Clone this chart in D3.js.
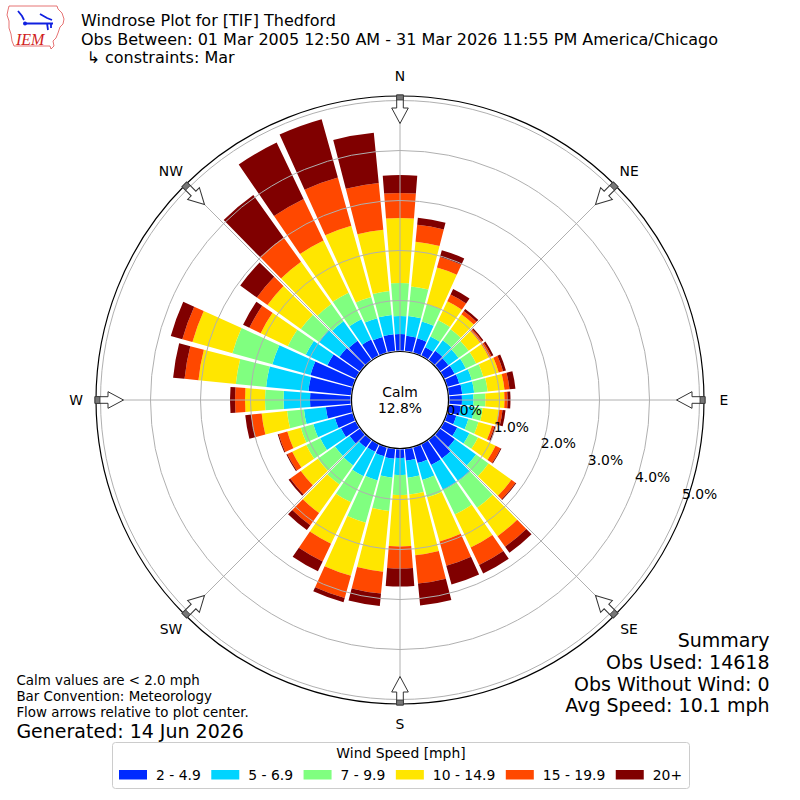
<!DOCTYPE html>
<html>
<head>
<meta charset="utf-8">
<script src="https://cdn.jsdelivr.net/npm/d3@7"></script>
<style>
  body { margin: 0; background: #fff; }
  svg { display: block; }
</style>
</head>
<body>
<div id="chart"></div>
<script>
// wind directions (degrees, meteorological) and percent of obs per speed bin
var dirs = [0, 10, 20, 30, 40, 50, 60, 70, 80, 90, 100, 110, 120, 130, 140, 150, 160, 170,
            180, 190, 200, 210, 220, 230, 240, 250, 260, 270, 280, 290, 300, 310, 320, 330, 340, 350];

var spd2_5   = [0.33,0.30,0.29,0.18,0.22,0.20,0.22,0.24,0.26,0.25,0.23,0.18,0.28,0.36,0.45,0.45,0.32,0.23,
                0.17,0.19,0.18,0.16,0.18,0.25,0.32,0.36,0.50,0.81,0.85,0.87,0.62,0.50,0.47,0.35,0.32,0.33];
var spd5_7   = [0.36,0.40,0.35,0.24,0.26,0.25,0.25,0.26,0.24,0.23,0.27,0.25,0.27,0.52,0.56,0.56,0.35,0.34,
                0.34,0.38,0.50,0.54,0.44,0.36,0.46,0.45,0.44,0.53,0.85,0.79,0.48,0.51,0.48,0.45,0.39,0.39];
var spd7_10  = [0.66,0.59,0.36,0.36,0.27,0.25,0.23,0.24,0.27,0.24,0.17,0.21,0.19,0.31,0.65,0.54,0.36,0.34,
                0.40,0.67,0.88,0.58,0.47,0.42,0.31,0.26,0.34,0.37,0.61,0.83,0.40,0.44,0.42,0.59,0.44,0.48];
var spd10_15 = [1.30,0.90,0.76,0.42,0.37,0.28,0.28,0.32,0.34,0.38,0.33,0.28,0.39,0.56,0.70,0.73,0.92,1.22,
                1.03,1.22,1.10,0.92,0.70,0.42,0.31,0.28,0.51,0.40,0.75,0.83,0.60,0.82,1.04,1.16,1.48,1.23];
var spd15_20 = [0.50,0.34,0.22,0.15,0.08,0.05,0.06,0.09,0.10,0.06,0.07,0.05,0.11,0.10,0.26,0.39,0.50,0.57,
                0.44,0.44,0.46,0.39,0.30,0.26,0.11,0.18,0.21,0.20,0.28,0.21,0.25,0.26,0.60,0.92,1.00,0.94];
var spd20    = [0.36,0.14,0.14,0.12,0.05,0.03,0.04,0.06,0.12,0.06,0.06,0.03,0.02,0.02,0.15,0.19,0.39,0.44,
                0.36,0.25,0.09,0.22,0.12,0.04,0.02,0.02,0.12,0.10,0.23,0.24,0.14,0.41,1.04,1.25,1.21,1.01];

var binLabels = ['2 - 4.9', '5 - 6.9', '7 - 9.9', '10 - 14.9', '15 - 19.9', '20+'];
var binColors = ['#002aff', '#00d4ff', '#80ff80', '#ffe600', '#ff4800', '#800000'];
var ringTicks = [0, 1, 2, 3, 4, 5];
var compass = ['N', 'NE', 'E', 'SE', 'S', 'SW', 'W', 'NW'];
var compassDeg = [0, 45, 90, 135, 180, 225, 270, 315];
var calmPct = '12.8%';

var font = '"DejaVu Sans", sans-serif';
var cx = 400, cy = 400;

var svg = d3.select('#chart').append('svg')
    .attr('width', 800)
    .attr('height', 800)
    .style('font-family', font);

svg.append('rect').attr('width', 800).attr('height', 800).attr('fill', '#fff');

// scales
var r = d3.scaleLinear().domain([0, 5]).range([49.5, 299.5]);
var ang = d3.scaleLinear().domain([0, 360]).range([0, 2 * Math.PI]);
var halfW = 4.4;

var series = [spd2_5, spd5_7, spd7_10, spd10_15, spd15_20, spd20];
var keys = binLabels;
var rows = dirs.map(function(d, i) {
    var o = { dir: d };
    keys.forEach(function(k, j) { o[k] = series[j][i]; });
    return o;
});
var stacked = d3.stack().keys(keys)(rows);

var arc = d3.arc()
    .innerRadius(function(d) { return r(d[0]); })
    .outerRadius(function(d) { return r(d[1]); })
    .startAngle(function(d) { return ang(d.data.dir - halfW); })
    .endAngle(function(d) { return ang(d.data.dir + halfW); });

var plot = svg.append('g').attr('transform', 'translate(' + cx + ',' + cy + ')');

plot.selectAll('g.bin')
    .data(stacked)
    .enter().append('g')
    .attr('class', 'bin')
    .attr('fill', function(d, i) { return binColors[i]; })
    .selectAll('path')
    .data(function(d) { return d; })
    .enter().append('path')
    .attr('d', arc);

// grid rings
plot.selectAll('circle.ring')
    .data(ringTicks.slice(1))
    .enter().append('circle')
    .attr('class', 'ring')
    .attr('r', function(d) { return r(d); })
    .attr('fill', 'none')
    .attr('stroke', '#b0b0b0')
    .attr('stroke-width', 1);

// radial grid lines
plot.selectAll('line.spoke')
    .data(compassDeg)
    .enter().append('line')
    .attr('x1', 0).attr('y1', 0)
    .attr('x2', function(d) { return 304 * Math.sin(ang(d)); })
    .attr('y2', function(d) { return -304 * Math.cos(ang(d)); })
    .attr('stroke', '#b0b0b0')
    .attr('stroke-width', 1);

// outer frame
plot.append('circle')
    .attr('r', 304)
    .attr('fill', 'none')
    .attr('stroke', '#000')
    .attr('stroke-width', 1.2);

// calm circle
plot.append('circle')
    .attr('r', 48.5)
    .attr('fill', '#fff')
    .attr('stroke', '#000')
    .attr('stroke-width', 1.2);

plot.append('text')
    .attr('x', 0).attr('y', -3.5)
    .attr('text-anchor', 'middle')
    .attr('font-size', '13.9px')
    .text('Calm');
plot.append('text')
    .attr('x', 0).attr('y', 12.5)
    .attr('text-anchor', 'middle')
    .attr('font-size', '13.9px')
    .text(calmPct);

// ring labels
var labAng = 109.7;
plot.selectAll('text.rlab')
    .data(ringTicks)
    .enter().append('text')
    .attr('x', function(d) { return r(d) * Math.sin(ang(labAng)); })
    .attr('y', function(d) { return -r(d) * Math.cos(ang(labAng)) - 2; })
    .attr('font-size', '13.9px')
    .text(function(d) { return d.toFixed(1) + '%'; });

// flow arrows
var arrowPts = [[0, -276.5], [8.3, -292], [3.3, -292], [3.3, -305], [-3.3, -305], [-3.3, -292], [-8.3, -292]];
var arrows = plot.selectAll('g.arrow')
    .data(compassDeg)
    .enter().append('g')
    .attr('transform', function(d) { return 'rotate(' + d + ')'; });
arrows.append('polygon')
    .attr('points', arrowPts.map(function(p) { return p.join(','); }).join(' '))
    .attr('fill', '#fff')
    .attr('stroke', '#333')
    .attr('stroke-width', 1);
arrows.append('rect')
    .attr('x', -3.3).attr('y', -305)
    .attr('width', 6.6).attr('height', 5)
    .attr('fill', '#777')
    .attr('stroke', '#333')
    .attr('stroke-width', 0.8);

// compass labels
plot.selectAll('text.dir')
    .data(compass)
    .enter().append('text')
    .attr('x', function(d, i) { return 324 * Math.sin(ang(compassDeg[i])); })
    .attr('y', function(d, i) { return -324 * Math.cos(ang(compassDeg[i])); })
    .attr('text-anchor', 'middle')
    .attr('dominant-baseline', 'central')
    .attr('font-size', '13.9px')
    .text(function(d) { return d; });

// header
var head = svg.append('g').attr('font-size', '16px').attr('fill', '#000');
head.append('text').attr('x', 81).attr('y', 25.8).text('Windrose Plot for [TIF] Thedford');
head.append('text').attr('x', 81).attr('y', 44.5).text('Obs Between: 01 Mar 2005 12:50 AM - 31 Mar 2026 11:55 PM America/Chicago');
head.append('text').attr('x', 86.5).attr('y', 63).text('\u21b3 constraints: Mar');

// logo
var logo = svg.append('g');
logo.append('path')
    .attr('d', 'M9,6 L57,6 L58,9 L62,13 L64,19 L63,24 L60,27 L58,33 L56,38 L53,41 L54,46 L51,49 L50,46 L14,46 L12,41 L11,34 L9,28 L9,21 L7,15 L8,10 Z')
    .attr('fill', 'none')
    .attr('stroke', '#e05050')
    .attr('stroke-width', 0.8);
logo.append('path')
    .attr('d', 'M24,23.5 L53,23.5 M18,11 L22,16 L24,20 M40,14 L47,18 L52,20 M47,23 L48,30 M51,24 L51,28')
    .attr('fill', 'none')
    .attr('stroke', '#1020e0')
    .attr('stroke-width', 1.8);
logo.append('circle').attr('cx', 25).attr('cy', 23.5).attr('r', 2).attr('fill', '#1020e0');
logo.append('text')
    .attr('x', 16).attr('y', 45)
    .attr('font-family', '"Liberation Serif", serif')
    .attr('font-style', 'italic')
    .attr('font-size', '16px')
    .attr('fill', '#d02020')
    .text('IEM');

// footnotes
var foot = svg.append('g').attr('fill', '#000');
foot.append('text').attr('x', 16.4).attr('y', 685).attr('font-size', '13.4px').text('Calm values are < 2.0 mph');
foot.append('text').attr('x', 16.4).attr('y', 701).attr('font-size', '13.4px').text('Bar Convention: Meteorology');
foot.append('text').attr('x', 16.4).attr('y', 717).attr('font-size', '13.4px').text('Flow arrows relative to plot center.');
foot.append('text').attr('x', 16.4).attr('y', 738).attr('font-size', '19px').text('Generated: 14 Jun 2026');

var summary = ['Summary', 'Obs Used: 14618', 'Obs Without Wind: 0', 'Avg Speed: 10.1 mph'];
svg.append('g')
    .attr('text-anchor', 'end')
    .attr('font-size', '19px')
    .selectAll('text')
    .data(summary)
    .enter().append('text')
    .attr('x', 769.5)
    .attr('y', function(d, i) { return 647 + i * 21.8; })
    .text(function(d) { return d; });

// legend
var leg = svg.append('g');
leg.append('rect')
    .attr('x', 112.5).attr('y', 742.5)
    .attr('width', 577).attr('height', 46)
    .attr('rx', 3)
    .attr('fill', '#fff')
    .attr('stroke', '#cccccc');
leg.append('text')
    .attr('x', 401).attr('y', 758)
    .attr('text-anchor', 'middle')
    .attr('font-size', '13.9px')
    .text('Wind Speed [mph]');

var cursor = 119;
binLabels.forEach(function(lab, i) {
    leg.append('rect')
        .attr('x', cursor).attr('y', 770)
        .attr('width', 28).attr('height', 9.5)
        .attr('fill', binColors[i]);
    var t = leg.append('text')
        .attr('x', cursor + 37).attr('y', 779.5)
        .attr('font-size', '13.9px')
        .text(lab);
    cursor = cursor + 37 + t.node().getComputedTextLength() + 10.5;
});
</script>
</body>
</html>
